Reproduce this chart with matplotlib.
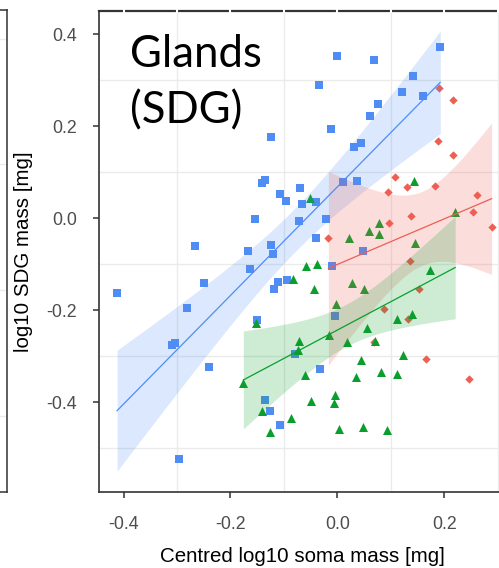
import numpy as np
import matplotlib.pyplot as plt

# soma mass (centred log10) vs gland mass, three groups
blue_x = [-0.412, -0.296, -0.309, -0.304, -0.281, -0.266, -0.250, -0.240, -0.168, -0.164,
          -0.154, -0.151, -0.141, -0.136, -0.136, -0.126, -0.124, -0.121, -0.124, -0.118,
          -0.111, -0.107, -0.107, -0.096, -0.094, -0.079, -0.070, -0.072, -0.066, -0.040,
          -0.040, -0.034, -0.033, -0.021, -0.013, -0.011, -0.005, 0.000, 0.010, 0.031,
          0.036, 0.044, 0.047, 0.061, 0.068, 0.075, 0.121, 0.142, 0.160, 0.192]
blue_y = [-0.163, -0.523, -0.276, -0.270, -0.195, -0.060, -0.141, -0.323, -0.071, -0.110,
          -0.001, -0.222, 0.077, 0.084, -0.396, -0.418, -0.058, -0.078, 0.177, -0.153,
          -0.139, 0.053, -0.450, 0.037, -0.135, -0.295, 0.067, -0.005, 0.032, 0.036,
          -0.043, 0.289, -0.328, -0.001, 0.195, -0.103, -0.213, 0.353, 0.080, 0.155,
          0.082, 0.163, -0.071, 0.223, 0.345, 0.248, 0.274, 0.310, 0.266, 0.372]

red_x = [-0.017, 0.068, 0.086, 0.094, 0.096, 0.107, 0.130, 0.132, 0.136, 0.137,
         0.152, 0.165, 0.182, 0.188, 0.190, 0.216, 0.216, 0.246, 0.254, 0.260, 0.288]
red_y = [-0.042, -0.269, -0.197, 0.058, -0.009, 0.091, 0.068, -0.219, -0.092, 0.005,
         -0.153, -0.306, 0.071, 0.168, 0.283, 0.258, 0.138, -0.349, 0.013, 0.051, -0.018]

green_x = [-0.176, -0.153, -0.142, -0.127, -0.087, -0.084, -0.072, -0.073, -0.061, -0.059,
           -0.051, -0.050, -0.043, -0.039, -0.016, -0.005, -0.006, -0.003, 0.002, 0.017,
           0.021, 0.027, 0.035, 0.044, 0.048, 0.050, 0.056, 0.059, 0.070, 0.078,
           0.078, 0.081, 0.093, 0.111, 0.111, 0.123, 0.139, 0.143, 0.144, 0.173, 0.220]
green_y = [-0.357, -0.228, -0.418, -0.465, -0.434, -0.132, -0.266, -0.286, -0.341, -0.103,
           0.045, -0.398, -0.154, -0.099, -0.253, -0.384, -0.402, -0.187, -0.458, -0.269,
           -0.042, -0.140, -0.346, -0.308, -0.453, -0.154, -0.239, -0.027, -0.266, -0.010,
           -0.034, -0.334, -0.460, -0.218, -0.338, -0.297, -0.208, 0.082, -0.053, -0.112, 0.014]

x_ticks = [-0.4, -0.2, 0.0, 0.2]
y_ticks = [-0.4, -0.2, 0.0, 0.2, 0.4]

# two-sided 95% t quantiles by residual df
t975 = {19: 2.0930, 39: 2.0227, 48: 2.0106}

groups = [
    (blue_x, blue_y, '#4F8DF5', 's', 30),
    (red_x, red_y, '#EE5E52', 'D', 18),
    (green_x, green_y, '#0A9F2C', '^', 42),
]


def lm_band(x, y):
    x = np.asarray(x)
    y = np.asarray(y)
    n = len(x)
    b, a = np.polyfit(x, y, 1)
    resid = y - (a + b * x)
    s = np.sqrt(np.sum(resid ** 2) / (n - 2))
    sxx = np.sum((x - x.mean()) ** 2)
    xs = np.linspace(x.min(), x.max(), 80)
    fit = a + b * xs
    se = s * np.sqrt(1.0 / n + (xs - x.mean()) ** 2 / sxx)
    w = t975[n - 2] * se
    return xs, fit, fit - w, fit + w


plt.rcParams['font.family'] = ['Liberation Sans', 'DejaVu Sans']

fig = plt.figure(figsize=(4.99, 5.68), dpi=100)

# edge of the neighbouring panel
side = fig.add_axes([-0.05, 1 - 492 / 568, 0.05 + 6.5 / 499, 482 / 568])
side.set_xlim(0, 1)
side.set_ylim(0, 1)
side.set_xticks([])
side.set_yticks([0.158, 0.42, 0.68, 0.94])
side.tick_params(length=0, labelleft=False)
side.grid(axis='y', color='#EBEBEB', lw=1)
side.spines['left'].set_visible(False)
for k in ['right', 'top', 'bottom']:
    side.spines[k].set_color('#333333')
    side.spines[k].set_linewidth(1.1)

ax = fig.add_axes([99 / 499, 1 - 492 / 568, 406 / 499, 481 / 568])
ax.set_xlim(-0.4458, 0.3131)
ax.set_ylim(-0.595, 0.451)

ax.set_xticks(x_ticks)
ax.set_yticks(y_ticks)
ax.set_xticks([-0.3, -0.1, 0.1, 0.3], minor=True)
ax.set_yticks([-0.5, -0.3, -0.1, 0.1, 0.3], minor=True)
ax.grid(which='minor', color='#EBEBEB', lw=1)
ax.tick_params(which='minor', length=0)
ax.tick_params(which='major', direction='out', length=4, width=1.1, color='#333333',
               labelsize=12.8, labelcolor='#4D4D4D')
ax.tick_params(axis='y', pad=12)
ax.tick_params(axis='x', pad=13)
ax.set_axisbelow(True)
ax.set_xticklabels(['%.1f' % v for v in x_ticks])
ax.set_yticklabels(['%.1f' % v for v in y_ticks])

for k in ['left', 'bottom', 'top']:
    ax.spines[k].set_color('#333333')
    ax.spines[k].set_linewidth(1.2)
ax.spines['top'].set_linewidth(1.6)
ax.spines['right'].set_visible(False)

# small breaks in the top border where the grid meets it
ax.vlines(np.arange(-0.4, 0.31, 0.1), 0.995, 1.005, transform=ax.get_xaxis_transform(),
          colors='white', lw=1.5, clip_on=False, zorder=5)

for gx, gy, col, mk, sz in groups:
    ax.scatter(gx, gy, s=sz, marker=mk, color=col, linewidths=0, zorder=2)

for gx, gy, col, mk, sz in groups:
    xs, fit, lo, hi = lm_band(gx, gy)
    ax.fill_between(xs, lo, hi, color=col, alpha=0.2, lw=0, zorder=3)
    ax.plot(xs, fit, color=col, lw=0.9, zorder=4)

ax.set_xlabel('Centred log10 soma mass [mg]', fontsize=14.8)
ax.set_ylabel('log10 SDG mass [mg]', fontsize=14.8)
ax.xaxis.set_label_coords(0.5, -0.114)
ax.yaxis.set_label_coords(-0.163, 0.5)

fig.text(130 / 499, 1 - 67 / 568, 'Glands', fontfamily='Lato', fontsize=31.5,
         ha='left', va='baseline', color='black')
fig.text(130 / 499, 1 - 123 / 568, '(SDG)', fontfamily='Lato', fontsize=31.5,
         ha='left', va='baseline', color='black')

fig.savefig('out.png', dpi=100)
